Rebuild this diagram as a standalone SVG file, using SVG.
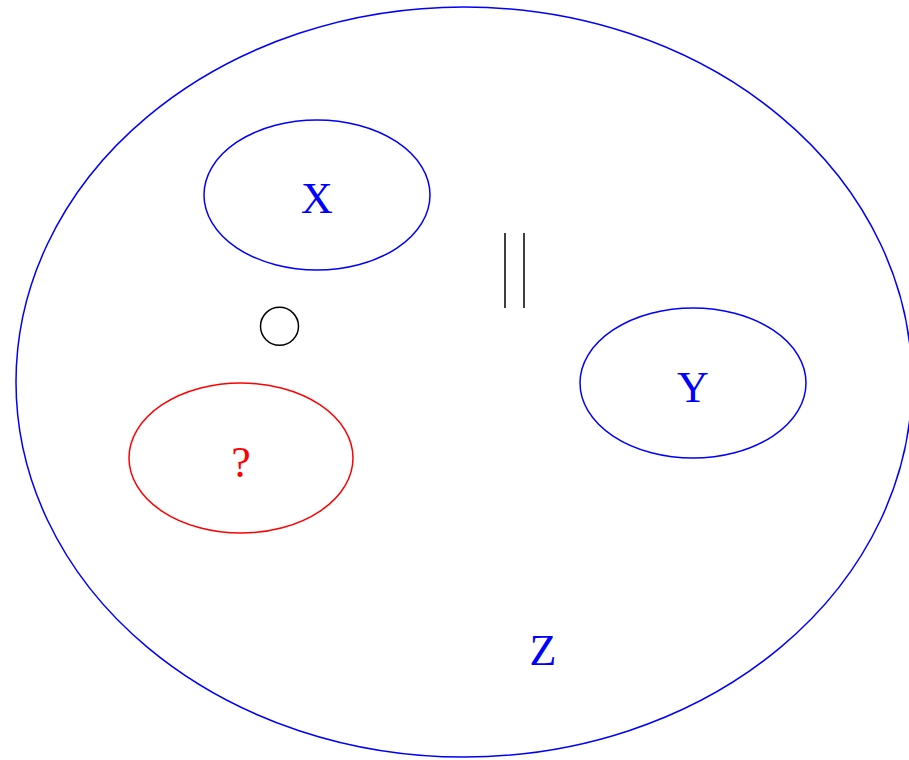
<svg xmlns="http://www.w3.org/2000/svg" width="909" height="760" viewBox="0 0 909 760">
<style>
.blue{fill:none;stroke:#0000ff;stroke-width:1.5}
.red{fill:none;stroke:#ff0000;stroke-width:1.5}
.lbl{font-family:"Liberation Serif","Times New Roman",serif;font-size:44px;text-anchor:middle}
</style>
<rect width="909" height="760" fill="#fff"/>
<g id="Z">
<ellipse class="blue" cx="464" cy="382" rx="448" ry="375"/>
<text class="lbl" x="543" y="665" fill="#0000ff">Z</text>
</g>
<g id="X">
<ellipse class="blue" cx="317" cy="195" rx="113" ry="75"/>
<text class="lbl" x="317" y="213" fill="#0000ff">X</text>
</g>
<g id="Y">
<ellipse class="blue" cx="693" cy="383" rx="113" ry="75"/>
<text class="lbl" x="693" y="402" fill="#0000ff">Y</text>
</g>
<g id="Q">
<ellipse class="red" cx="241" cy="458" rx="112" ry="75"/>
<text class="lbl" x="241" y="477" fill="#ff0000">?</text>
</g>
<g id="circle">
<circle cx="279.5" cy="326.3" r="19" fill="none" stroke="#000" stroke-width="1.5"/>
</g>
<g id="parallel">
<line x1="505" y1="233" x2="505" y2="308" stroke="#000" stroke-width="1.5"/>
<line x1="524" y1="233" x2="524" y2="308" stroke="#000" stroke-width="1.5"/>
</g>
</svg>
